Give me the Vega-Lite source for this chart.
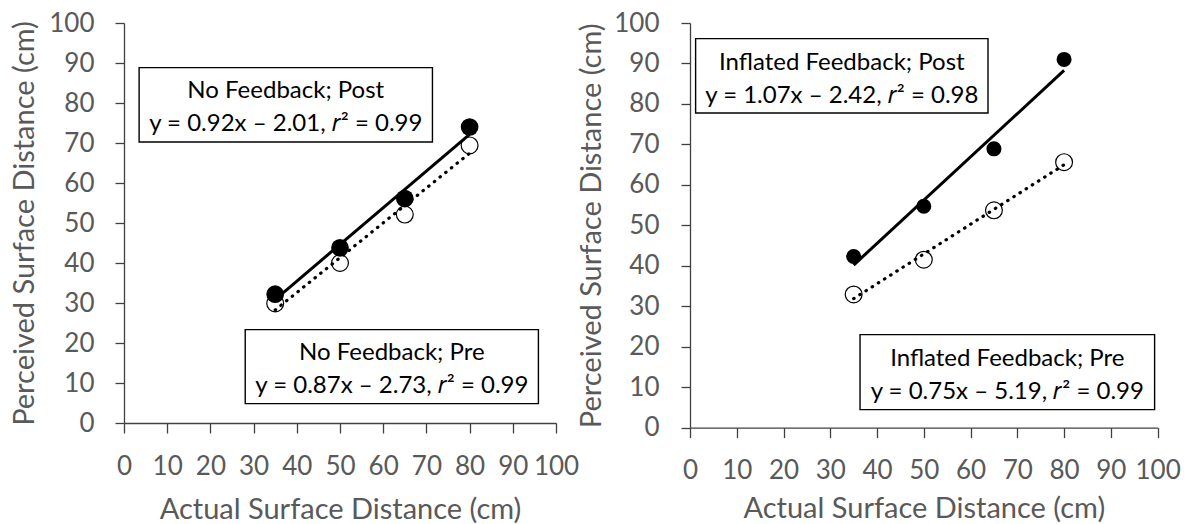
{
  "$schema": "https://vega.github.io/schema/vega-lite/v6.json",
  "padding": {"left": 10, "top": 4, "right": 0, "bottom": 0},
  "spacing": -2,
  "datasets": {
    "points": [
      {"panel": "No", "phase": "Post", "actual": 35, "perceived": 32.2},
      {"panel": "No", "phase": "Post", "actual": 50, "perceived": 43.8},
      {"panel": "No", "phase": "Post", "actual": 65, "perceived": 56.1},
      {"panel": "No", "phase": "Post", "actual": 80, "perceived": 74.0},
      {"panel": "No", "phase": "Pre", "actual": 35, "perceived": 29.9},
      {"panel": "No", "phase": "Pre", "actual": 50, "perceived": 40.0},
      {"panel": "No", "phase": "Pre", "actual": 65, "perceived": 52.1},
      {"panel": "No", "phase": "Pre", "actual": 80, "perceived": 69.4},
      {"panel": "Inflated", "phase": "Post", "actual": 35, "perceived": 42.3},
      {"panel": "Inflated", "phase": "Post", "actual": 50, "perceived": 54.7},
      {"panel": "Inflated", "phase": "Post", "actual": 65, "perceived": 68.9},
      {"panel": "Inflated", "phase": "Post", "actual": 80, "perceived": 91.0},
      {"panel": "Inflated", "phase": "Pre", "actual": 35, "perceived": 32.9},
      {"panel": "Inflated", "phase": "Pre", "actual": 50, "perceived": 41.5},
      {"panel": "Inflated", "phase": "Pre", "actual": 65, "perceived": 53.7},
      {"panel": "Inflated", "phase": "Pre", "actual": 80, "perceived": 65.6}
    ],
    "boxes": [
      {"panel": "No", "phase": "Post", "x1": 3.5, "x2": 71.4, "y1": 70.25, "y2": 88.85, "tx": 37.45, "ty": 81.35, "label": "No Feedback; Post\ny = 0.92x – 2.01, 𝑟² = 0.99"},
      {"panel": "No", "phase": "Pre", "x1": 28.06, "x2": 95.93, "y1": 4.85, "y2": 23.35, "tx": 62.0, "ty": 15.85, "label": "No Feedback; Pre\ny = 0.87x – 2.73, 𝑟² = 0.99"},
      {"panel": "Inflated", "phase": "Post", "x1": 1.2, "x2": 63.73, "y1": 77.76, "y2": 96.14, "tx": 32.47, "ty": 88.5, "label": "Inflated Feedback; Post\ny = 1.07x – 2.42, 𝑟² = 0.98"},
      {"panel": "Inflated", "phase": "Pre", "x1": 36.36, "x2": 99.36, "y1": 4.45, "y2": 22.99, "tx": 67.86, "ty": 15.3, "label": "Inflated Feedback; Pre\ny = 0.75x – 5.19, 𝑟² = 0.99"}
    ]
  },
  "config": {
    "view": {"stroke": null},
    "font": "Lato",
    "axis": {
      "grid": false,
      "domainColor": "#404040",
      "tickColor": "#404040",
      "domainWidth": 1.3,
      "tickWidth": 1.3,
      "labelColor": "#595959",
      "titleColor": "#595959",
      "labelFont": "Lato",
      "titleFont": "Lato",
      "labelFontSize": 26,
      "titleFontSize": 29,
      "titleFontWeight": "normal",
      "labelOverlap": false,
      "labelFlush": false,
      "labelBound": false,
      "tickCount": 10
    },
    "axisX": {"tickSize": 10, "labelPadding": 20},
    "axisY": {"tickSize": 9, "labelPadding": 21, "titlePadding": 9}
  },
  "hconcat": [
    {
      "width": 432,
      "height": 400,
      "title": {"text": " ", "fontSize": 2, "offset": 4},
      "layer": [
        {
          "data": {"name": "boxes"},
          "transform": [{"filter": "datum.panel === 'No'"}],
          "mark": {"type": "rect", "fill": "white", "stroke": "black", "strokeWidth": 1.4},
          "encoding": {
            "x": {"field": "x1", "type": "quantitative", "scale": {"domain": [0, 100], "nice": false}, "title": "Actual Surface Distance (cm)", "axis": {"titlePadding": 16}},
            "x2": {"field": "x2"},
            "y": {"field": "y1", "type": "quantitative", "scale": {"domain": [0, 100], "nice": false}, "title": "Perceived Surface Distance (cm)"},
            "y2": {"field": "y2"},
            "strokeDash": {"field": "phase", "type": "nominal", "scale": {"domain": ["Post", "Pre"], "range": [[1, 0], [1, 2]]}, "legend": null}
          }
        },
        {
          "data": {"name": "boxes"},
          "transform": [{"filter": "datum.panel === 'No'"}],
          "mark": {"type": "text", "font": "Lato", "fontSize": 24, "color": "black", "align": "center", "baseline": "alphabetic", "lineBreak": "\n", "lineHeight": 33.4},
          "encoding": {
            "x": {"field": "tx", "type": "quantitative", "title": "Actual Surface Distance (cm)"},
            "y": {"field": "ty", "type": "quantitative", "title": "Perceived Surface Distance (cm)"},
            "text": {"field": "label"}
          }
        },
        {
          "data": {"name": "points"},
          "transform": [{"filter": "datum.panel === 'No' && datum.phase === 'Pre'"}, {"regression": "perceived", "on": "actual", "extent": [35, 80]}],
          "mark": {"type": "line", "color": "black", "strokeWidth": 3.2, "strokeCap": "round", "strokeDash": [0.5, 6.8]},
          "encoding": {
            "x": {"field": "actual", "type": "quantitative", "title": "Actual Surface Distance (cm)"},
            "y": {"field": "perceived", "type": "quantitative", "title": "Perceived Surface Distance (cm)"}
          }
        },
        {
          "data": {"name": "points"},
          "transform": [{"filter": "datum.panel === 'No' && datum.phase === 'Post'"}, {"regression": "perceived", "on": "actual", "extent": [35, 80]}],
          "mark": {"type": "line", "color": "black", "strokeWidth": 3},
          "encoding": {
            "x": {"field": "actual", "type": "quantitative", "title": "Actual Surface Distance (cm)"},
            "y": {"field": "perceived", "type": "quantitative", "title": "Perceived Surface Distance (cm)"}
          }
        },
        {
          "data": {"name": "points"},
          "transform": [{"filter": "datum.panel === 'No' && datum.phase === 'Pre'"}],
          "mark": {"type": "point", "shape": "circle", "filled": false, "stroke": "black", "strokeWidth": 1.2, "size": 283, "opacity": 1},
          "encoding": {
            "x": {"field": "actual", "type": "quantitative", "title": "Actual Surface Distance (cm)"},
            "y": {"field": "perceived", "type": "quantitative", "title": "Perceived Surface Distance (cm)"}
          }
        },
        {
          "data": {"name": "points"},
          "transform": [{"filter": "datum.panel === 'No' && datum.phase === 'Post'"}],
          "mark": {"type": "point", "shape": "circle", "filled": true, "color": "black", "size": 314, "opacity": 1},
          "encoding": {
            "x": {"field": "actual", "type": "quantitative", "title": "Actual Surface Distance (cm)"},
            "y": {"field": "perceived", "type": "quantitative", "title": "Perceived Surface Distance (cm)"}
          }
        }
      ]
    },
    {
      "width": 467.6,
      "height": 404.6,
      "layer": [
        {
          "data": {"name": "boxes"},
          "transform": [{"filter": "datum.panel === 'Inflated'"}],
          "mark": {"type": "rect", "fill": "white", "stroke": "black", "strokeWidth": 1.4},
          "encoding": {
            "x": {"field": "x1", "type": "quantitative", "scale": {"domain": [0, 100], "nice": false}, "title": "Actual Surface Distance (cm)", "axis": {"titlePadding": 11}},
            "x2": {"field": "x2"},
            "y": {"field": "y1", "type": "quantitative", "scale": {"domain": [0, 100], "nice": false}, "title": "Perceived Surface Distance (cm)", "axis": {"labelPadding": 22, "titlePadding": 7}},
            "y2": {"field": "y2"},
            "strokeDash": {"field": "phase", "type": "nominal", "scale": {"domain": ["Post", "Pre"], "range": [[1, 0], [1, 2]]}, "legend": null}
          }
        },
        {
          "data": {"name": "boxes"},
          "transform": [{"filter": "datum.panel === 'Inflated'"}],
          "mark": {"type": "text", "font": "Lato", "fontSize": 24, "color": "black", "align": "center", "baseline": "alphabetic", "lineBreak": "\n", "lineHeight": 33.4},
          "encoding": {
            "x": {"field": "tx", "type": "quantitative", "title": "Actual Surface Distance (cm)"},
            "y": {"field": "ty", "type": "quantitative", "title": "Perceived Surface Distance (cm)"},
            "text": {"field": "label"}
          }
        },
        {
          "data": {"name": "points"},
          "transform": [{"filter": "datum.panel === 'Inflated' && datum.phase === 'Pre'"}, {"regression": "perceived", "on": "actual", "extent": [35, 80]}],
          "mark": {"type": "line", "color": "black", "strokeWidth": 3.2, "strokeCap": "round", "strokeDash": [0.5, 6.8]},
          "encoding": {
            "x": {"field": "actual", "type": "quantitative", "title": "Actual Surface Distance (cm)"},
            "y": {"field": "perceived", "type": "quantitative", "title": "Perceived Surface Distance (cm)"}
          }
        },
        {
          "data": {"name": "points"},
          "transform": [{"filter": "datum.panel === 'Inflated' && datum.phase === 'Post'"}, {"regression": "perceived", "on": "actual", "extent": [35, 80]}],
          "mark": {"type": "line", "color": "black", "strokeWidth": 3},
          "encoding": {
            "x": {"field": "actual", "type": "quantitative", "title": "Actual Surface Distance (cm)"},
            "y": {"field": "perceived", "type": "quantitative", "title": "Perceived Surface Distance (cm)"}
          }
        },
        {
          "data": {"name": "points"},
          "transform": [{"filter": "datum.panel === 'Inflated' && datum.phase === 'Pre'"}],
          "mark": {"type": "point", "shape": "circle", "filled": false, "stroke": "black", "strokeWidth": 1.2, "size": 283, "opacity": 1},
          "encoding": {
            "x": {"field": "actual", "type": "quantitative", "title": "Actual Surface Distance (cm)"},
            "y": {"field": "perceived", "type": "quantitative", "title": "Perceived Surface Distance (cm)"}
          }
        },
        {
          "data": {"name": "points"},
          "transform": [{"filter": "datum.panel === 'Inflated' && datum.phase === 'Post'"}],
          "mark": {"type": "point", "shape": "circle", "filled": true, "color": "black", "size": 227, "opacity": 1},
          "encoding": {
            "x": {"field": "actual", "type": "quantitative", "title": "Actual Surface Distance (cm)"},
            "y": {"field": "perceived", "type": "quantitative", "title": "Perceived Surface Distance (cm)"}
          }
        }
      ]
    }
  ]
}
